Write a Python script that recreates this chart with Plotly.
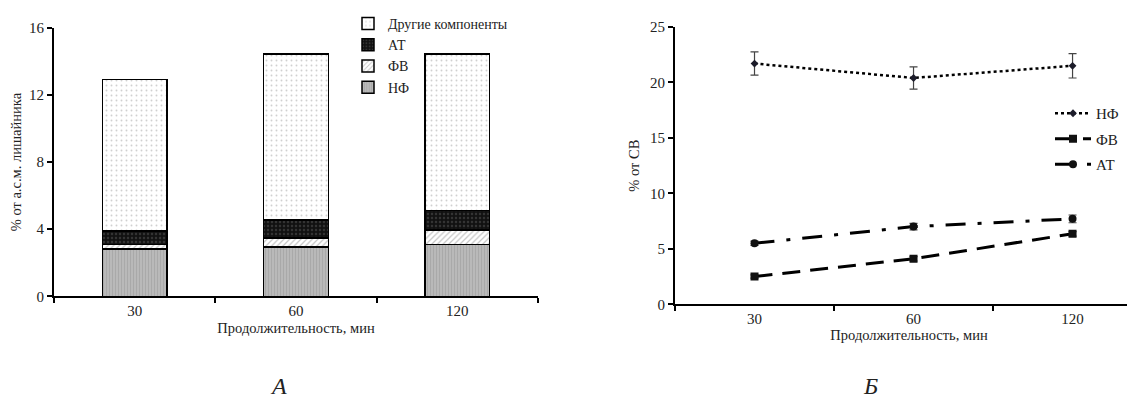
import plotly.graph_objects as go

# ---- data ----
categories = ["30", "60", "120"]
nf_bar = [2.83, 2.93, 3.08]
fv_bar = [0.26, 0.56, 0.86]
at_bar = [0.79, 1.06, 1.19]
other_bar = [9.05, 9.91, 9.33]

nf_line = [21.7, 20.4, 21.5]
nf_err = [1.05, 1.0, 1.1]
fv_line = [2.5, 4.1, 6.35]
fv_err = [0.15, 0.2, 0.2]
at_line = [5.5, 7.0, 7.7]
at_err = [0.2, 0.3, 0.35]

left_yticks = [0, 4, 8, 12, 16]
right_yticks = [0, 5, 10, 15, 20, 25]

FONT = "Liberation Serif"
W, H = 1135, 402
OFF = 8  # page body margin


def px(x):
    return (x - OFF) / W


def py(y):
    return 1 - (y - OFF) / H


fig = go.Figure()

fig.add_trace(go.Bar(name="НФ", y=nf_bar,
                     marker=dict(color="#b9b9b9", line=dict(color="black", width=1.5),
                                 pattern=dict(shape="|", fgcolor="#9a9a9a", size=3, solidity=0.35,
                                              fillmode="overlay")),
                     x=categories, width=0.4, xaxis="x", yaxis="y", legend="legend"))
fig.add_trace(go.Bar(name="ФВ", y=fv_bar,
                     marker=dict(color="white", line=dict(color="black", width=1.5),
                                 pattern=dict(shape="/", fgcolor="#8a8a8a", size=4, solidity=0.3,
                                              fillmode="overlay")),
                     x=categories, width=0.4, xaxis="x", yaxis="y", legend="legend"))
fig.add_trace(go.Bar(name="АТ", y=at_bar,
                     marker=dict(color="#111111", line=dict(color="black", width=1.5),
                                 pattern=dict(shape=".", fgcolor="#555555", size=4, solidity=0.3,
                                              fillmode="overlay")),
                     x=categories, width=0.4, xaxis="x", yaxis="y", legend="legend"))
fig.add_trace(go.Bar(name="Другие компоненты", y=other_bar,
                     marker=dict(color="white", line=dict(color="black", width=1.5),
                                 pattern=dict(shape=".", fgcolor="#a0a0a0", size=5, solidity=0.12,
                                              fillmode="overlay")),
                     x=categories, width=0.4, xaxis="x", yaxis="y", legend="legend"))

# ---- right panel lines ----
err_style = dict(type="data", color="#444444", thickness=1.2, width=4)
fig.add_trace(go.Scatter(name="НФ", x=categories, y=nf_line, mode="lines+markers",
                         line=dict(color="black", width=2.5, dash="dot"),
                         marker=dict(symbol="diamond", size=6, color="#1c1c2a"),
                         error_y=dict(array=nf_err, **err_style), legendgroup="g1",
                         xaxis="x2", yaxis="y2", legend="legend2"))
fig.add_trace(go.Scatter(name="ФВ", x=categories, y=fv_line, mode="lines+markers",
                         line=dict(color="black", width=3, dash="18px,10px"),
                         marker=dict(symbol="square", size=8, color="#111111"),
                         error_y=dict(array=fv_err, **err_style), legendgroup="g2",
                         xaxis="x2", yaxis="y2", legend="legend2"))
fig.add_trace(go.Scatter(name="АТ", x=categories, y=at_line, mode="lines+markers",
                         line=dict(color="black", width=3, dash="20px,12px,4px,12px"),
                         marker=dict(symbol="circle", size=8, color="#111111"),
                         error_y=dict(array=at_err, **err_style), legendgroup="g3",
                         xaxis="x2", yaxis="y2", legend="legend2"))

axis_font = dict(family=FONT, size=15, color="#222222")
title_font = dict(family=FONT, size=14.5, color="#222222")

common_axis = dict(ticks="outside", ticklen=5, tickwidth=1.5, tickcolor="black",
                   showline=True, linecolor="black", linewidth=2, showgrid=False,
                   zeroline=False, tickfont=axis_font, automargin=False)

fig.update_layout(
    width=W, height=H,
    margin=dict(l=0, r=0, t=0, b=0),
    paper_bgcolor="white", plot_bgcolor="white",
    barmode="stack",
    font=dict(family=FONT, size=14, color="#222222"),
    xaxis=dict(domain=[px(54), px(538)], type="category", range=[-0.5, 2.5],
               tickson="boundaries",
               title=dict(text="Продолжительность, мин", font=title_font, standoff=5),
               **common_axis),
    yaxis=dict(domain=[py(296), py(27)], range=[0, 16], tickvals=left_yticks,
               title=dict(text="% от а.с.м. лишайника", font=title_font, standoff=6),
               **common_axis),
    xaxis2=dict(domain=[px(675), px(1143)], type="category", range=[-0.5, 2.443], anchor="y2",
                tickson="boundaries",
                title=dict(text="Продолжительность, мин", font=title_font, standoff=1),
                **common_axis),
    yaxis2=dict(domain=[py(304), py(26)], range=[0, 25], tickvals=right_yticks, anchor="x2",
                title=dict(text="% от СВ", font=title_font, standoff=7),
                **common_axis),
    legend=dict(x=px(348), y=py(7), xanchor="left", yanchor="top",
                traceorder="reversed", font=dict(family=FONT, size=14, color="#222222"),
                bgcolor="rgba(0,0,0,0)"),
    legend2=dict(x=px(1050), y=py(97), xanchor="left", yanchor="top",
                 traceorder="grouped", tracegroupgap=3,
                 font=dict(family=FONT, size=15, color="#222222"),
                 bgcolor="rgba(0,0,0,0)", itemwidth=36),
    annotations=[
        dict(text="<i>А</i>", x=px(268), y=py(401), xref="paper", yref="paper",
             yanchor="bottom", showarrow=False, font=dict(family=FONT, size=24, color="#222222")),
        dict(text="<i>Б</i>", x=px(880), y=py(401), xref="paper", yref="paper",
             yanchor="bottom", showarrow=False, font=dict(family=FONT, size=24, color="#222222")),
    ],
)

fig.write_html("out.html")
